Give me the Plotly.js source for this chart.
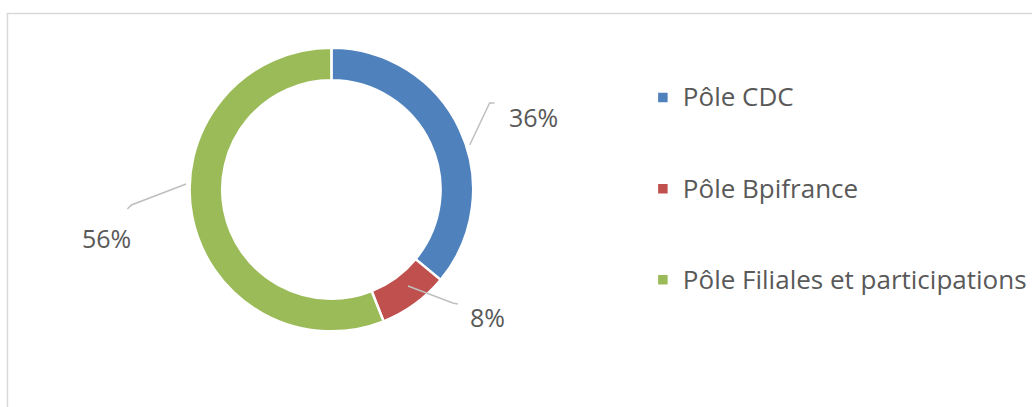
<!DOCTYPE html>
<html>
<head>
<meta charset="utf-8">
<script src="https://cdn.plot.ly/plotly-3.0.1.min.js"></script>
<style>html,body{margin:0;padding:0;background:#fff;}#chart{width:1032px;height:407px;}</style>
</head>
<body>
<div id="chart"></div>
<script>
// ---- data ----
const labels = ["Pôle CDC", "Pôle Bpifrance", "Pôle Filiales et participations"];
const values = [36, 8, 56];
const colors = ["#4F81BD", "#C0504D", "#9BBB59"];

// ---- layout helpers (pixel geometry, not data) ----
const W = 1032, H = 407;
const cx = 333, cy = 189.5, R = 142.5;
const px = x => x / W;
const py = y => (H - y) / H;

// label positions / leader lines (layout, px)
const labelStyle = [
  {tx: 536, ty: 117, line: [[472, 145], [492, 103], [497, 103]]},
  {tx: 490, ty: 317, line: [[410, 286], [455, 303], [460, 304]]},
  {tx: 107, ty: 238, line: [[187, 184], [132, 205], [128, 209]]}
];

const total = values.reduce((a, b) => a + b, 0);
const pctText = values.map(v => Math.round(v / total * 100) + "%");

const annotations = pctText.map((t, i) => ({
  xref: "paper", yref: "paper",
  x: px(labelStyle[i].tx), y: py(labelStyle[i].ty),
  xanchor: "center", yanchor: "middle",
  text: t, showarrow: false,
  font: {family: "Open Sans, sans-serif", size: 25, color: "#595959"}
}));

const shapes = labelStyle.map(s => ({
  type: "path", xref: "paper", yref: "paper",
  path: s.line.map((p, k) => (k ? "L" : "M") + px(p[0]) + "," + py(p[1])).join(" "),
  line: {color: "#BFBFBF", width: 1.5}
}));
shapes.push({
  type: "rect", xref: "paper", yref: "paper",
  x0: px(7.5), x1: px(1040), y0: py(415), y1: py(13.5),
  line: {color: "#D9D9D9", width: 1.5}, layer: "below"
});

const legendText = labels.map(l => "\u00a0<br><span style='font-size:26px'>" + l + "</span><br>\u00a0");

const trace = {
  type: "pie",
  labels: legendText,
  values: values,
  marker: {colors: colors, line: {color: "#FFFFFF", width: 2.5}},
  hole: 0.77,
  sort: false,
  direction: "clockwise",
  rotation: 0,
  textinfo: "none",
  hoverinfo: "none",
  domain: {x: [px(cx - R), px(cx + R)], y: [py(cy + R), py(cy - R)]}
};

const layout = {
  width: W, height: H,
  margin: {l: 0, r: 0, t: 0, b: 0},
  paper_bgcolor: "#FFFFFF",
  showlegend: true,
  legend: {
    x: px(646), y: py(47), xanchor: "left", yanchor: "top",
    font: {family: "Open Sans, sans-serif", size: 22.6, color: "#595959"},
    bgcolor: "rgba(0,0,0,0)", traceorder: "normal"
  },
  annotations: annotations,
  shapes: shapes
};

Plotly.newPlot("chart", [trace], layout, {displayModeBar: false, staticPlot: true});
</script>
</body>
</html>
